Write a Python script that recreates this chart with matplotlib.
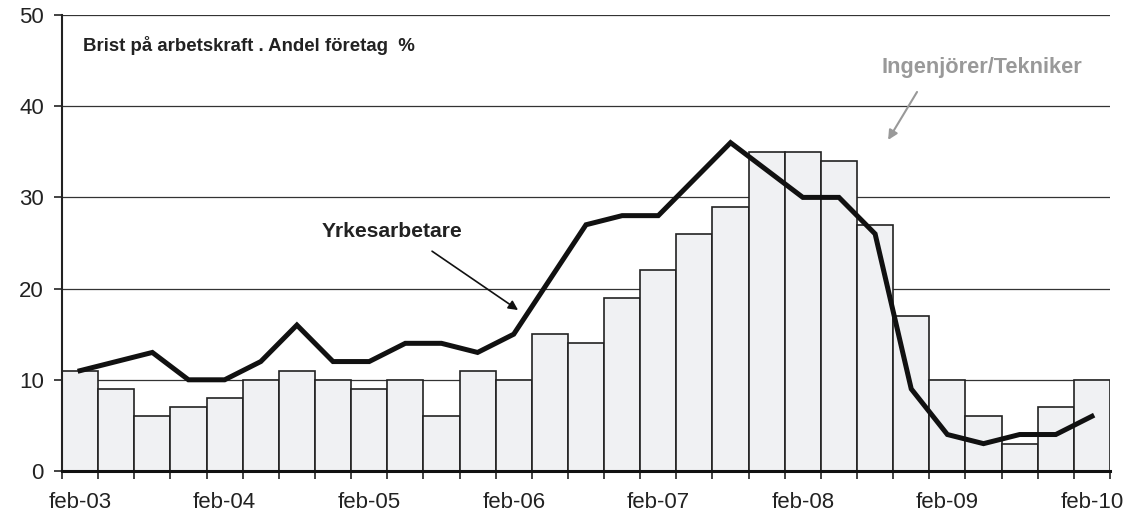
import matplotlib.pyplot as plt
import numpy as np

plt.rcParams["font.family"] = ["Liberation Sans", "DejaVu Sans"]

# quarterly observations feb-03 .. feb-10
tick_labels = ["feb-03", "feb-04", "feb-05", "feb-06", "feb-07", "feb-08", "feb-09", "feb-10"]
ingenjorer = [11, 9, 6, 7, 8, 10, 11, 10, 9, 10, 6, 11, 10, 15, 14, 19,
              22, 26, 29, 35, 35, 34, 27, 17, 10, 6, 3, 7, 10]
yrkesarbetare = [11, 12, 13, 10, 10, 12, 16, 12, 12, 14, 14, 13, 15, 21, 27, 28,
                 28, 32, 36, 33, 30, 30, 26, 9, 4, 3, 4, 4, 6]

x = np.arange(len(ingenjorer))

fig = plt.figure(figsize=(11.45, 5.15), dpi=100)
ax = fig.add_axes([62 / 1145, 1 - 471 / 515, 1048 / 1145, 456 / 515])

ax.bar(x, ingenjorer, width=1.0, color="#f0f1f3", edgecolor="#222222",
       linewidth=1.2, zorder=2)
ax.plot(x, yrkesarbetare, color="#111111", linewidth=3.6, zorder=3,
        solid_joinstyle="miter")

ax.set_xlim(-0.5, len(x) - 0.5)
ax.set_ylim(0, 50)
ax.set_yticks(range(0, 51, 10))
ax.yaxis.grid(True, color="#333333", linewidth=0.9, zorder=0)
ax.set_axisbelow(True)

# ticks at category boundaries, labels every fourth quarter
ax.set_xticks(np.arange(-0.5, len(x), 1.0))
ax.set_xticklabels([])
ax.set_xticks(np.arange(0, len(x), 4), minor=True)
ax.set_xticklabels(tick_labels, minor=True)
ax.tick_params(axis="x", which="major", direction="out", length=6, width=1.2, color="#222222")
ax.tick_params(axis="x", which="minor", length=0, pad=15, labelsize=16, labelcolor="#222222")
ax.tick_params(axis="y", direction="out", length=6, width=1.2, color="#222222",
               labelsize=16, labelcolor="#222222", pad=7)

for side in ["top", "right"]:
    ax.spines[side].set_visible(False)
ax.spines["left"].set_linewidth(1.5)
ax.spines["left"].set_color("#222222")
ax.spines["bottom"].set_linewidth(2.2)
ax.spines["bottom"].set_color("#111111")
ax.spines["bottom"].set_zorder(4)

ax.text(0.08, 46.7, "Brist på arbetskraft . Andel företag  %", fontsize=13.4,
        fontweight="bold", color="#222222", va="center", ha="left")

ax.text(6.69, 25.66, "Yrkesarbetare", fontsize=15.2, fontweight="bold",
        color="#222222", va="baseline", ha="left")
ax.annotate("", xy=(12.12, 17.65), xytext=(9.74, 24.1),
            arrowprops=dict(arrowstyle="-|>", color="#111111", lw=1.2,
                            mutation_scale=14, shrinkA=0, shrinkB=0))

ax.text(22.19, 43.6, "Ingenjörer/Tekniker", fontsize=15.7, fontweight="bold",
        color="#999999", va="baseline", ha="left")
ax.annotate("", xy=(22.36, 36.3), xytext=(23.16, 41.56),
            arrowprops=dict(arrowstyle="-|>", color="#999999", lw=1.5,
                            mutation_scale=14, shrinkA=0, shrinkB=0))

fig.savefig("out.png", dpi=100)
